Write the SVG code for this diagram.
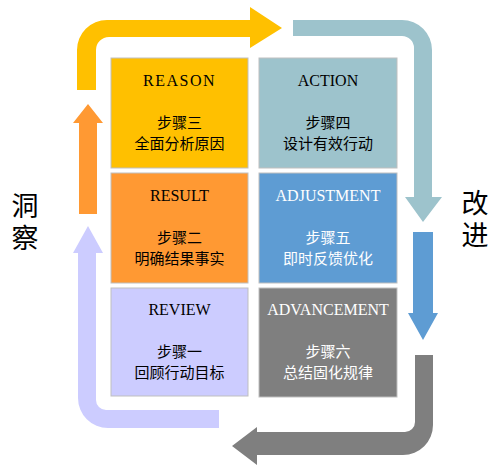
<svg xmlns="http://www.w3.org/2000/svg" width="494" height="466" viewBox="0 0 494 466">
<style>
.box{stroke:#BFBFBF;stroke-width:1}
.t{font-family:"Liberation Serif","DejaVu Serif",serif;font-size:16px;text-anchor:middle}
.c{font-family:"Noto Sans CJK SC","Noto Sans",sans-serif;font-size:15px;text-anchor:middle}
.side{font-family:"Noto Sans CJK SC","Noto Sans",sans-serif;font-size:27px;fill:#000;writing-mode:vertical-rl;text-anchor:start;letter-spacing:5px}
.dark{fill:#000}
.light{fill:#FFFFFF}
</style>
<rect width="494" height="466" fill="#FFFFFF"/>
<g id="connectors">
<path id="arrow-gold" d="M77,90 L77,50 A30,30 0 0 1 107,20 L250,20 L250,7 L282,28 L250,48 L250,37 L109,37 A13,13 0 0 0 96,50 L96,90 Z" fill="#FFC000"/>
<path id="arrow-teal" d="M293,20 L402,20 A30,30 0 0 1 432,50 L432,197 L442,197 L423,222 L405,197 L414,197 L414,48 A12,12 0 0 0 402,36 L293,36 Z" fill="#9DC3CC"/>
<path id="arrow-blue" d="M413,232 L433,232 L433,313 L438,313 L423,340 L408,313 L413,313 Z" fill="#5E9CD3"/>
<path id="arrow-gray" d="M415,355 L433,355 L433,425 A30,30 0 0 1 403,455 L257,455 L257,465 L232,446 L257,427 L257,432 L405,432 A10,10 0 0 0 415,422 Z" fill="#7F7F7F"/>
<path id="arrow-lavender" d="M78,253 L78,398 A30,30 0 0 0 108,428 L219,428 L219,410 L106,410 A10,10 0 0 1 96,400 L96,253 L103,253 L88,226 L73,253 Z" fill="#CCCCFF"/>
<path id="arrow-orange" d="M79,214 L79,123 L73,123 L88,104 L103,123 L97,123 L97,214 Z" fill="#FF9933"/>
</g>
<g id="reason">
<rect class="box" x="111" y="58" width="137" height="110" fill="#FFC000"/>
<text class="t dark" x="179.5" y="86" letter-spacing="1.5">REASON</text>
<text class="c dark" x="179.5" y="128">步骤三</text>
<text class="c dark" x="179.5" y="149">全面分析原因</text>
</g>
<g id="action">
<rect class="box" x="259" y="58" width="138" height="110" fill="#9DC3CC"/>
<text class="t dark" x="328" y="86">ACTION</text>
<text class="c dark" x="328" y="128">步骤四</text>
<text class="c dark" x="328" y="149">设计有效行动</text>
</g>
<g id="result">
<rect class="box" x="111" y="173" width="137" height="110" fill="#FF9933"/>
<text class="t dark" x="179.5" y="201">RESULT</text>
<text class="c dark" x="179.5" y="243">步骤二</text>
<text class="c dark" x="179.5" y="264">明确结果事实</text>
</g>
<g id="adjustment">
<rect class="box" x="259" y="173" width="138" height="110" fill="#5E9CD3"/>
<text class="t light" x="328" y="201">ADJUSTMENT</text>
<text class="c light" x="328" y="243">步骤五</text>
<text class="c light" x="328" y="264">即时反馈优化</text>
</g>
<g id="review">
<rect class="box" x="111" y="288" width="137" height="108" fill="#CCCCFF"/>
<text class="t dark" x="179.5" y="315">REVIEW</text>
<text class="c dark" x="179.5" y="357">步骤一</text>
<text class="c dark" x="179.5" y="378">回顾行动目标</text>
</g>
<g id="advancement">
<rect class="box" x="259" y="288" width="138" height="109" fill="#7F7F7F"/>
<text class="t light" x="328" y="315" font-size="14">ADVANCEMENT</text>
<text class="c light" x="328" y="357">步骤六</text>
<text class="c light" x="328" y="378">总结固化规律</text>
</g>
<g id="insight">
<text class="side" x="25" y="192">洞察</text>
</g>
<g id="improve">
<text class="side" x="475" y="189" font-size="26">改进</text>
</g>
</svg>
